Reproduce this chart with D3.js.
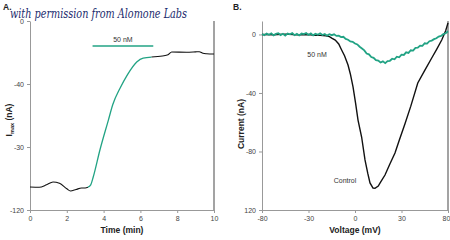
<!DOCTYPE html>
<html>
<head>
<meta charset="utf-8">
<script src="https://cdn.jsdelivr.net/npm/d3@7"></script>
<style>
  body { margin: 0; background: #fff; }
  svg { display: block; }
  .tick text { font-family: "Liberation Sans Narrow", "Liberation Sans", sans-serif; font-size: 7px; fill: #444; }
  .tick line { stroke: #999; }
  .domain { stroke: #999; }
  .lab { font-family: "Liberation Sans", Arial, sans-serif; font-weight: bold; font-size: 8.5px; fill: #222; }
  .note { font-family: "Liberation Sans Narrow", "Liberation Sans", sans-serif; font-size: 7px; fill: #333; }
</style>
</head>
<body>
<div class="chart"></div>
<script>
// Set Parms
var svgWidth = 450;
var svgHeight = 240;

// Panel A data: Imax vs time
var timeTicks = [0, 2, 4, 6, 8, 10];
var timeTickLabels = ["0", "2", "4", "6", "8", "10"];
var imaxTicks = [0, -40, -80, -120];
var imaxTickLabels = ["0", "-40", "-30", "-120"];

var beforeT = [0, 0.5, 0.9, 1.25, 1.6, 2.0, 2.2, 2.5, 2.8, 3.0, 3.15];
var beforeI = [-105.4, -105.6, -104, -102.2, -103, -106.5, -107.9, -107, -106, -106, -105.5];
var drugT = [3.15, 3.3, 3.44, 3.8, 4.26, 4.5, 4.9, 5.3, 5.8, 6.15, 6.6];
var drugI = [-105.5, -104, -98.9, -81.9, -62.9, -53, -42.5, -34, -26, -23.5, -22.9];
var afterT = [6.6, 7.2, 7.5, 7.7, 8.5, 9.0, 9.2, 9.4, 9.6, 10];
var afterI = [-22.9, -22.2, -21.5, -19.7, -19.8, -19.6, -19.5, -20.5, -20.8, -21];
var drugBar = [3.4, 6.7];

// Panel B data: current vs voltage
var voltTicks = [-80, -40, 0, 40, 80];
var voltTickLabels = ["-80", "-30", "0", "30", "80"];
var currTicks = [0, -40, -80, -120];
var currTickLabels = ["0", "-40", "-80", "120"];

var controlV = [-80, -70, -60, -50, -40, -35, -30, -25, -22, -20, -17, -14, -11.5, -9, -6, -4, -1.7, 0.5, 2.6, 5.7, 8.6, 11, 12.9, 15.5, 17.2, 20, 22, 25.8, 30, 34.4, 38, 43, 48, 54, 60, 66, 70, 74.6, 78, 80];
var controlI = [0, -0.2, 0.2, -0.3, 0, -0.5, -0.6, -1.0, -1.5, -2.5, -3.8, -6.5, -10.6, -14.5, -20.9, -27, -35.9, -47, -58.5, -70.1, -85.8, -95, -101.5, -105, -105.2, -103.6, -101, -96.1, -88.5, -81, -72.5, -61, -49, -33.2, -24.5, -16.1, -10.5, -3.8, 2.5, 7.9];

var drugV = [-80, -78, -76, -74, -72, -70, -68, -66, -64, -62, -60, -58, -56, -54, -52, -50, -48, -46, -44, -42, -40, -38, -36, -34, -32, -30, -28, -26, -24, -22, -20, -18, -16, -14, -12, -10, -8, -6, -4, -2, 0, 2, 4, 6, 8, 10, 12, 14, 16, 18, 20, 22, 24, 26, 28, 30, 32, 34, 36, 38, 40, 42, 44, 46, 48, 50, 52, 54, 56, 58, 60, 62, 64, 66, 68, 70, 72, 74, 76, 78, 80];
var drugCurr = [0.3, -0.5, 0.6, -0.2, 0.8, -0.6, 0.4, 0.9, -0.4, 0.5, -0.8, 0.6, 0.1, 0.9, -0.5, 0.4, -0.7, 0.6, 0.2, 1.0, -0.3, 0.7, -0.6, 0.5, -0.2, 0.8, -0.4, 0.3, -0.8, 0.2, -0.5, 0.1, -1.0, -0.8, -1.8, -1.6, -3.0, -3.6, -4.8, -5.0, -6.2, -6.8, -8.4, -9.6, -10.9, -13.0, -13.6, -15.4, -16.0, -17.6, -17.8, -19.2, -18.4, -19.6, -18.2, -18.0, -16.6, -17.0, -15.2, -15.6, -13.8, -14.0, -12.2, -12.6, -10.8, -11.0, -9.2, -9.0, -7.6, -7.8, -6.0, -6.2, -4.6, -4.2, -3.2, -2.6, -1.4, -1.0, 0.2, 0.8, 2.2];

var teal = "#22a384";

// The svg
var svg = d3.select(".chart")
  .append("svg")
  .attr("width", svgWidth)
  .attr("height", svgHeight);

function zip(xs, ys) { return xs.map(function(x, i){ return [x, ys[i]]; }); }

// ---------- Panel A ----------
var xA = d3.scaleLinear().domain([0, 10]).range([30, 214]);
var yA = d3.scaleLinear().domain([-120, 0]).range([210, 21]);

svg.append("g")
  .attr("transform", "translate(0,210)")
  .call(d3.axisBottom(xA).tickValues(timeTicks).tickSize(3).tickSizeOuter(0)
    .tickFormat(function(d, i){ return timeTickLabels[i]; }));
svg.append("g")
  .attr("transform", "translate(30,0)")
  .call(d3.axisLeft(yA).tickValues(imaxTicks).tickSize(3).tickSizeOuter(0)
    .tickFormat(function(d, i){ return imaxTickLabels[i]; }));
svg.append("line")
  .attr("x1", xA(10)).attr("x2", xA(10))
  .attr("y1", yA(0)).attr("y2", yA(-120))
  .attr("stroke", "#666").attr("stroke-width", 1.2);

var lineA = d3.line()
  .x(function(d){ return xA(d[0]); })
  .y(function(d){ return yA(d[1]); })
  .curve(d3.curveMonotoneX);

svg.append("path").attr("d", lineA(zip(beforeT, beforeI)))
  .attr("fill", "none").attr("stroke", "#111").attr("stroke-width", 1.1);
svg.append("path").attr("d", lineA(zip(afterT, afterI)))
  .attr("fill", "none").attr("stroke", "#111").attr("stroke-width", 1.1);
svg.append("path").attr("d", lineA(zip(drugT, drugI)))
  .attr("fill", "none").attr("stroke", teal).attr("stroke-width", 1.3);

svg.append("line")
  .attr("x1", xA(drugBar[0])).attr("x2", xA(drugBar[1]))
  .attr("y1", 46).attr("y2", 46)
  .attr("stroke", teal).attr("stroke-width", 1.3);
svg.append("text").attr("class", "note")
  .attr("x", xA((drugBar[0] + drugBar[1]) / 2)).attr("y", 42)
  .attr("text-anchor", "middle").text("50 nM");

svg.append("text").attr("class", "lab")
  .attr("x", xA(5)).attr("y", 233).attr("text-anchor", "middle").text("Time (min)");
var ylabA = svg.append("text").attr("class", "lab")
  .attr("transform", "translate(12,120) rotate(-90)")
  .attr("text-anchor", "middle");
ylabA.append("tspan").text("I");
ylabA.append("tspan").attr("font-size", "5.5px").attr("dy", 2).text("max");
ylabA.append("tspan").attr("dy", -2).text(" (nA)");

svg.append("text").attr("class", "lab")
  .attr("x", 3).attr("y", 10).attr("font-size", "7px").text("A.");

// ---------- Panel B ----------
var xB = d3.scaleLinear().domain([-80, 80]).range([262, 448]);
var yB = d3.scaleLinear().domain([-120, 9.2]).range([210, 21]);

var xAxisB = svg.append("g")
  .attr("transform", "translate(0,210)")
  .call(d3.axisBottom(xB).tickValues(voltTicks).tickSize(3).tickSizeOuter(0)
    .tickFormat(function(d, i){ return voltTickLabels[i]; }));
// keep the last label inside the window
xAxisB.selectAll(".tick text").filter(function(d){ return d === 80; }).attr("dx", "-2");

svg.append("g")
  .attr("transform", "translate(262,0)")
  .call(d3.axisLeft(yB).tickValues(currTicks).tickSize(3).tickSizeOuter(0)
    .tickFormat(function(d, i){ return currTickLabels[i]; }));
svg.append("line")
  .attr("x1", xB(80)).attr("x2", xB(80))
  .attr("y1", yB(9.2)).attr("y2", yB(-120))
  .attr("stroke", "#666").attr("stroke-width", 1.2);

var lineB = d3.line()
  .x(function(d){ return xB(d[0]); })
  .y(function(d){ return yB(d[1]); });

svg.append("path").attr("d", lineB(zip(controlV, controlI)))
  .attr("fill", "none").attr("stroke", "#111").attr("stroke-width", 1.4);
svg.append("path").attr("d", lineB(zip(drugV, drugCurr)))
  .attr("fill", "none").attr("stroke", teal).attr("stroke-width", 1.8);

svg.append("text").attr("class", "note")
  .attr("x", 317).attr("y", 57).attr("text-anchor", "middle").text("50 nM");
svg.append("text").attr("class", "note")
  .attr("x", 345).attr("y", 183).attr("text-anchor", "middle").text("Control");

svg.append("text").attr("class", "lab")
  .attr("x", xB(0)).attr("y", 233).attr("text-anchor", "middle").text("Voltage (mV)");
svg.append("text").attr("class", "lab")
  .attr("transform", "translate(244,124) rotate(-90)")
  .attr("text-anchor", "middle").text("Current (nA)");

svg.append("text").attr("class", "lab")
  .attr("x", 233).attr("y", 10).attr("font-size", "7px").text("B.");

// watermark
svg.append("text")
  .attr("x", 10).attr("y", 18)
  .attr("font-family", "'DejaVu Serif', serif").attr("font-style", "italic")
  .attr("font-size", "12px").attr("fill", "#1c2c6e")
  .attr("textLength", 177).attr("lengthAdjust", "spacingAndGlyphs")
  .text("with permission from Alomone Labs");
</script>
</body>
</html>
